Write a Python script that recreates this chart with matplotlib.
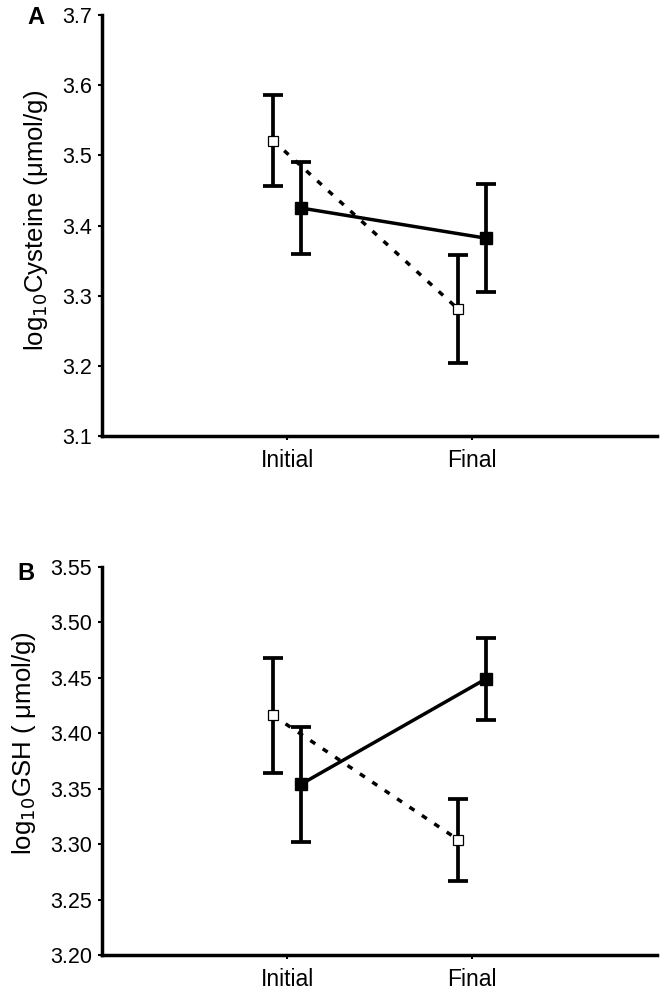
import matplotlib
matplotlib.use("Agg")
import matplotlib.pyplot as plt
import numpy as np

plt.rcParams['font.family'] = ['Liberation Sans', 'DejaVu Sans']

categories = ["Initial", "Final"]

# Panel A: log10 Cysteine
a_open_mean = [3.521, 3.281]
a_open_err = [0.065, 0.077]
a_fill_mean = [3.425, 3.382]
a_fill_err = [0.065, 0.077]

# Panel B: log10 GSH
b_open_mean = [3.416, 3.304]
b_open_err = [0.052, 0.037]
b_fill_mean = [3.354, 3.449]
b_fill_err = [0.052, 0.037]

fig = plt.figure(figsize=(6.67, 9.98), dpi=100)
axA = fig.add_axes([0.153, 0.563, 0.832, 0.422])
axB = fig.add_axes([0.153, 0.043, 0.832, 0.389])

x = np.arange(1, len(categories) + 1)
off = 0.075
lw = 2.5

def draw(ax, om, oe, fm, fe, ylim, yticks, fmt):
    ax.plot(x - off, om, color='black', lw=lw, ls=(0, (1.7, 2.6)), zorder=2)
    ax.plot(x + off, fm, color='black', lw=lw, ls='-', zorder=2)
    ax.errorbar(x - off, om, yerr=oe, fmt='none', ecolor='black', elinewidth=lw + 0.2,
                capsize=7, capthick=lw + 0.2, zorder=3)
    ax.errorbar(x + off, fm, yerr=fe, fmt='none', ecolor='black', elinewidth=lw + 0.2,
                capsize=7, capthick=lw + 0.2, zorder=3)
    ax.plot(x - off, om, ls='none', marker='s', ms=7, mfc='white', mec='black', mew=0.9, zorder=4)
    ax.plot(x + off, fm, ls='none', marker='s', ms=8, mfc='black', mec='black', zorder=4)
    ax.set_xlim(0, 3)
    ax.set_ylim(*ylim)
    ax.set_yticks(yticks)
    ax.set_yticklabels([fmt.format(v) for v in yticks])
    ax.set_xticks(x)
    ax.set_xticklabels(categories)
    for s in ['top', 'right']:
        ax.spines[s].set_visible(False)
    for s in ['left', 'bottom']:
        ax.spines[s].set_linewidth(2.5)
    ax.tick_params(axis='y', length=3, width=1.5, labelsize=15.5, pad=4)
    ax.tick_params(axis='x', length=3, width=1.5, labelsize=16.5, pad=6)

draw(axA, a_open_mean, a_open_err, a_fill_mean, a_fill_err, (3.1, 3.7),
     [3.1, 3.2, 3.3, 3.4, 3.5, 3.6, 3.7], "{:.1f}")
draw(axB, b_open_mean, b_open_err, b_fill_mean, b_fill_err, (3.2, 3.55),
     [3.20, 3.25, 3.30, 3.35, 3.40, 3.45, 3.50, 3.55], "{:.2f}")

fig.text(36 / 667, 1 - 220 / 998, r"log$_{10}$Cysteine (μmol/g)", fontsize=18.5,
         rotation=90, ha='center', va='center')
fig.text(24 / 667, 1 - 743 / 998, r"log$_{10}$GSH ( μmol/g)", fontsize=18.5,
         rotation=90, ha='center', va='center')

fig.text(36 / 667, 1 - 18 / 998, "A", fontsize=17, fontweight='bold', va='center', ha='center')
fig.text(26 / 667, 1 - 574 / 998, "B", fontsize=17, fontweight='bold', va='center', ha='center')

fig.savefig("out.png", dpi=100)
